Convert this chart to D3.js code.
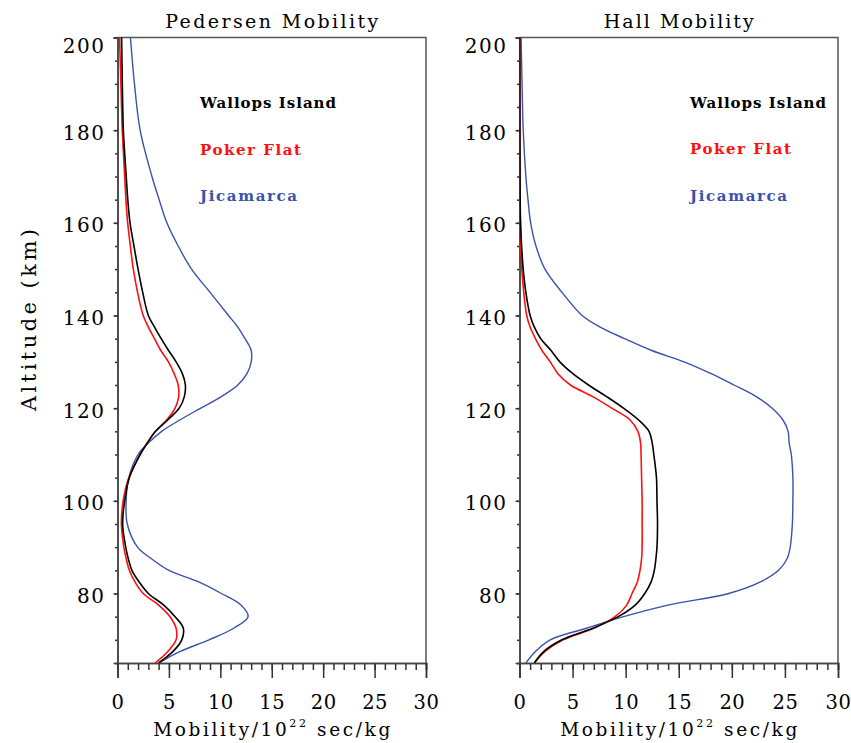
<!DOCTYPE html>
<html>
<head>
<meta charset="utf-8">
<script src="https://cdn.jsdelivr.net/npm/d3@7/dist/d3.min.js"></script>
<style>
  html, body { margin: 0; padding: 0; background: #fff; }
  svg { display: block; }
  text { font-family: "DejaVu Serif", "Liberation Serif", serif; }
</style>
</head>
<body>
<svg id="chart" width="851" height="743"></svg>
<script>
// Altitude grid (km) shared by all profiles
const altitudes = [65, 67.5, 70, 72.5, 75, 77.5, 80, 82.5, 85, 87.5, 90, 95, 100, 105, 110,
  112.5, 115, 117.5, 120, 122.5, 125, 127.5, 130, 132.5, 135, 137.5, 140, 145, 150, 155, 160, 165, 170, 180, 190, 200];

// Pedersen mobility (10^22 sec/kg)
const pedersenWallops = [4.0, 5.4, 6.25, 6.4, 5.6, 4.5, 3.0, 2.1, 1.4, 1.05, 0.8, 0.5, 0.7, 1.15, 2.2,
  2.9, 3.7, 4.9, 6.0, 6.5, 6.6, 6.3, 5.7, 4.95, 4.25, 3.6, 3.0, 2.45, 2.0, 1.6, 1.22, 1.0, 0.85, 0.57, 0.47, 0.4];
const pedersenPoker = [3.65, 4.9, 5.7, 5.7, 5.1, 4.0, 2.5, 1.7, 1.15, 0.85, 0.62, 0.38, 0.55, 1.1, 2.2,
  2.9, 3.7, 4.8, 5.6, 5.95, 5.9, 5.5, 4.95, 4.2, 3.6, 3.0, 2.5, 1.95, 1.54, 1.25, 0.99, 0.82, 0.7, 0.47, 0.33, 0.2];
const pedersenJicamarca = [4.0, 6.1, 8.9, 11.3, 12.7, 12.0, 10.1, 7.9, 5.0, 3.3, 1.95, 0.95, 0.84, 1.1, 2.0,
  3.0, 4.3, 6.1, 8.1, 10.1, 11.7, 12.6, 13.0, 13.0, 12.4, 11.7, 10.8, 9.0, 7.2, 5.9, 4.8, 4.05, 3.35, 2.2, 1.65, 1.26];

// Hall mobility (10^22 sec/kg)
const hallWallops = [1.4, 2.3, 4.0, 6.9, 9.3, 10.9, 11.8, 12.4, 12.7, 12.85, 12.95, 13.0, 12.95, 12.9, 12.65,
  12.5, 12.2, 11.2, 9.8, 8.2, 6.5, 5.0, 3.8, 2.95, 2.0, 1.4, 1.0, 0.6, 0.35, 0.2, 0.1, 0.06, 0.04, 0.02, 0.01, 0.01];
const hallPoker = [1.4, 2.4, 4.1, 7.0, 9.0, 10.1, 10.6, 11.1, 11.35, 11.5, 11.55, 11.55, 11.55, 11.5, 11.45,
  11.4, 11.15, 10.4, 8.7, 6.9, 4.8, 3.6, 2.9, 2.1, 1.5, 1.0, 0.68, 0.4, 0.22, 0.12, 0.08, 0.04, 0.03, 0.02, 0.01, 0.01];
const hallJicamarca = [0.6, 1.5, 2.9, 6.3, 9.8, 14.0, 19.7, 22.7, 24.4, 25.2, 25.5, 25.7, 25.75, 25.75, 25.6,
  25.4, 25.3, 24.8, 23.8, 22.3, 20.2, 18.0, 15.5, 12.4, 9.9, 7.6, 5.9, 4.0, 2.4, 1.55, 1.05, 0.8, 0.6, 0.35, 0.24, 0.15];

const siteNames = ["Wallops Island", "Poker Flat", "Jicamarca"];
const siteColors = ["#000000", "#ff1010", "#3a52aa"];
const panelTitles = ["Pedersen Mobility", "Hall Mobility"];
const xMajorTicks = [0, 5, 10, 15, 20, 25, 30];
const xMinorTicks = d3.range(0, 31, 1);
const yMajorTicks = [80, 100, 120, 140, 160, 180, 200];
const yMinorTicks = d3.range(65, 201, 5);
const xDomain = [0, 30];
const yDomain = [65, 200];

const panels = [
  { title: panelTitles[0], series: [pedersenWallops, pedersenPoker, pedersenJicamarca],
    left: 117.5, right: 426, titleW: 213, legendX: 200, legendY: [108, 154.5, 201] },
  { title: panelTitles[1], series: [hallWallops, hallPoker, hallJicamarca],
    left: 519.5, right: 838, titleW: 150, legendX: 690, legendY: [107.5, 154, 200.5] }
];
const legendW = [136, 101, 97];
const plotTop = 37.5, plotBottom = 663;

const svg = d3.select("#chart");
const defs = svg.append("defs");

panels.forEach((p, pi) => {
  const x = d3.scaleLinear().domain(xDomain).range([p.left, p.right]);
  const y = d3.scaleLinear().domain(yDomain).range([plotBottom, plotTop]);
  const g = svg.append("g");

  // clip region for the profiles
  defs.append("clipPath").attr("id", "clip" + pi)
    .append("rect").attr("x", p.left).attr("y", plotTop - 1)
    .attr("width", p.right - p.left).attr("height", plotBottom - plotTop + 1);

  // frame: top and right edges
  g.append("path")
    .attr("d", `M${p.left},${plotTop}H${p.right}V${plotBottom}`)
    .attr("fill", "none").attr("stroke", "#555").attr("stroke-width", 1.5);

  // x axis: minor then major ticks
  const xMinor = d3.axisBottom(x).tickValues(xMinorTicks).tickSize(7).tickFormat("");
  const xMajor = d3.axisBottom(x).tickValues(xMajorTicks).tickSize(15).tickPadding(17)
    .tickFormat(d3.format("d"));
  const gxm = g.append("g").attr("transform", `translate(0,${plotBottom})`).call(xMinor);
  const gx = g.append("g").attr("transform", `translate(0,${plotBottom})`).call(xMajor);
  [gxm, gx].forEach(a => {
    a.select(".domain").attr("stroke", "#444").attr("stroke-width", 1.5);
    a.selectAll(".tick line").attr("stroke", "#333").attr("stroke-width", 1.5);
  });
  gx.selectAll(".tick text")
    .attr("font-family", "DejaVu Serif, serif").attr("font-size", 19.5)
    .attr("letter-spacing", 0.5).attr("fill", "#000");

  // y axis: minor then major ticks
  const yMinor = d3.axisLeft(y).tickValues(yMinorTicks).tickSize(2.5).tickFormat("");
  const yMajor = d3.axisLeft(y).tickValues(yMajorTicks).tickSize(4).tickPadding(8)
    .tickFormat(d3.format("d"));
  const gym = g.append("g").attr("transform", `translate(${p.left},0)`).call(yMinor);
  const gy = g.append("g").attr("transform", `translate(${p.left},0)`).call(yMajor);
  [gym, gy].forEach(a => {
    a.select(".domain").attr("stroke", "#444").attr("stroke-width", 1.5);
    a.selectAll(".tick line").attr("stroke", "#333").attr("stroke-width", 1.5);
  });
  gy.selectAll(".tick text")
    .attr("font-family", "DejaVu Serif, serif").attr("font-size", 20)
    .attr("letter-spacing", 1.5).attr("fill", "#000")
    .attr("dy", d => (d === yDomain[1] ? "0.75em" : "0.45em"));

  // panel title
  g.append("text")
    .attr("x", (p.left + p.right) / 2).attr("y", 28)
    .attr("text-anchor", "middle").attr("font-size", 19).attr("fill", "#000")
    .attr("textLength", p.titleW).attr("lengthAdjust", "spacing")
    .text(p.title);

  // x axis title with superscript exponent
  const xt = g.append("text")
    .attr("x", (p.left + p.right) / 2).attr("y", 735.5)
    .attr("text-anchor", "middle").attr("font-size", 18.5).attr("fill", "#000")
    .attr("textLength", 237).attr("lengthAdjust", "spacing");
  xt.append("tspan").text("Mobility/10");
  xt.append("tspan").attr("font-size", 11).attr("dy", -9).text("22");
  xt.append("tspan").attr("dy", 9).text(" sec/kg");

  // profiles
  const line = d3.line()
    .x(d => x(d[1]))
    .y(d => y(d[0]))
    .curve(d3.curveCatmullRom.alpha(0.5));
  const order = [2, 1, 0];
  order.forEach(si => {
    const pts = altitudes.map((a, i) => [a, p.series[si][i]]);
    g.append("path")
      .attr("d", line(pts))
      .attr("clip-path", `url(#clip${pi})`)
      .attr("fill", "none")
      .attr("stroke", siteColors[si])
      .attr("stroke-width", si === 2 ? 1.4 : 1.6);
  });

  // legend labels
  siteNames.forEach((name, si) => {
    g.append("text")
      .attr("x", p.legendX).attr("y", p.legendY[si])
      .attr("font-size", 15).attr("font-weight", "bold")
      .attr("fill", siteColors[si])
      .attr("textLength", legendW[si]).attr("lengthAdjust", "spacing")
      .text(name);
  });
});

// shared altitude axis title
svg.append("text")
  .attr("transform", "translate(36,320) rotate(-90)")
  .attr("text-anchor", "middle").attr("font-size", 21).attr("fill", "#000")
  .attr("textLength", 182).attr("lengthAdjust", "spacing")
  .text("Altitude (km)");
</script>
</body>
</html>
